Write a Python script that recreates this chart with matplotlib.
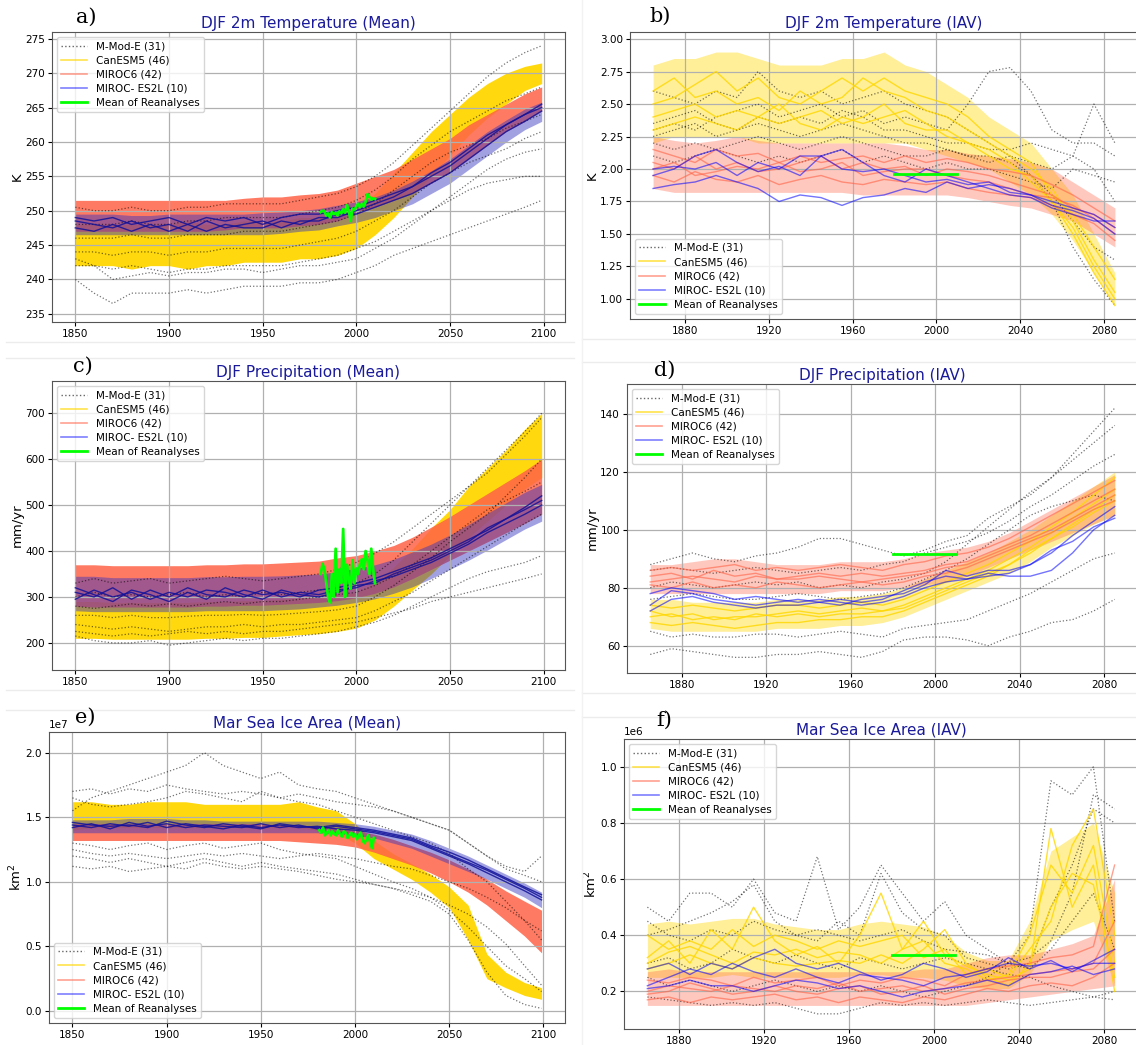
import numpy as np
import matplotlib.pyplot as plt
from matplotlib.lines import Line2D

# ---- x nodes (read every ~10 years off the figure) ----
YM = [1850, 1860, 1870, 1880, 1890, 1900, 1910, 1920, 1930, 1940, 1950, 1960, 1970,
      1980, 1990, 2000, 2010, 2020, 2030, 2040, 2050, 2060, 2070, 2080, 2090, 2099]
YI = [1865, 1875, 1885, 1895, 1905, 1915, 1925, 1935, 1945, 1955, 1965, 1975, 1985,
      1995, 2005, 2015, 2025, 2035, 2045, 2055, 2065, 2075, 2085]
YR = list(range(1981, 2011))

# ---- a) DJF 2m temperature, mean (K) ----
TA_CAN_LO = [242, 242, 242, 241.5, 242, 242, 241.5, 242, 242, 242.5, 242.5, 242.5, 243, 243, 243.5, 244.5, 246.5, 249, 252, 255, 258, 261, 263.5, 265.5, 267.5, 268.5]
TA_CAN_HI = [248, 248, 248, 248, 248, 248, 248.5, 248, 248, 248.5, 248.5, 248.5, 249, 249, 249.5, 250.5, 252.5, 255.5, 258.5, 261.5, 264, 266.5, 268.5, 270, 271, 271.5]
TA_M6_LO = [247, 247, 247, 247, 247, 247, 247, 247, 247.2, 247.5, 247.5, 247.5, 247.8, 248, 248.5, 249.5, 250.5, 251.5, 252.5, 254, 255.5, 257.5, 259.5, 261.5, 263, 264.5]
TA_M6_HI = [251.5, 251.5, 251.5, 251.5, 251.5, 251.5, 251.5, 251.5, 251.5, 251.8, 252, 252, 252.3, 252.5, 253, 254, 255, 256, 257.5, 259, 260.5, 262.5, 264, 265.5, 267, 268]
TA_ES_LO = [246.5, 246.5, 246.5, 246.5, 246.5, 246.5, 246.5, 246.5, 246.5, 246.5, 246.5, 246.7, 247, 247.2, 247.8, 248.3, 249, 250, 251, 252.5, 254, 256, 258, 260, 261.8, 263]
TA_ES_HI = [249.5, 249.5, 249.5, 249.3, 249.3, 249.5, 249.5, 249.5, 249.5, 249.5, 249.7, 249.8, 250, 250.3, 250.8, 251.3, 252, 253, 254.3, 255.8, 257.5, 259.5, 261.5, 263.2, 264.8, 265.8]
TA_ES = [
    [248.5, 248, 247.5, 248.5, 247.5, 248, 247, 248.5, 247.5, 248, 248.5, 247.5, 248.5, 248.5, 249.5, 249.5, 250.5, 251.5, 252.5, 254, 255.5, 257.5, 259.5, 261.5, 263, 264.5],
    [247.5, 247, 248, 247, 248, 247, 248, 247, 248, 247.5, 247.5, 248.5, 248, 249, 249, 250, 251, 252, 253.5, 255, 256.5, 258.5, 260.5, 262.5, 264, 265],
    [249, 248.5, 249, 248, 248.5, 249, 248, 249, 248.5, 249, 248, 249, 249.5, 249.5, 250, 250.5, 251.5, 252.5, 253.5, 255.5, 257, 259, 261, 262.5, 264, 265.5],
]
TA_MME = [
    [240, 238, 236.5, 238, 238, 238, 238.5, 238, 238.5, 239, 239, 239, 239.5, 239.5, 240, 241, 242, 243.5, 244.5, 245.5, 246.5, 247.5, 248.5, 249.5, 250.5, 251.5],
    [242, 242, 241.5, 242, 241.5, 241, 241.5, 241.5, 242, 242, 242, 242, 242.5, 243, 243.5, 244.5, 245.5, 247, 248.5, 250, 251.5, 253, 254, 254.5, 255, 255],
    [244, 244, 243.5, 244, 244, 243.5, 244, 244, 244.5, 244.5, 244.5, 244.5, 245, 245.5, 246, 247, 248.5, 250, 252, 254, 255.5, 257, 258, 259, 260.5, 261.5],
    [246, 246, 246, 246.5, 246, 246, 246.5, 246.5, 246.5, 247, 247, 247, 247.5, 248, 248.5, 249.5, 251, 253, 255, 257, 258.5, 259.5, 260.5, 262, 263, 264],
    [248, 248, 248, 248.5, 248, 248, 248.5, 248.5, 249, 249, 249, 249, 249.5, 250, 250.5, 251.5, 253, 255, 257.5, 259.5, 261.5, 263, 264.5, 266, 267, 268],
    [250.5, 250, 250, 250.5, 250, 250, 250.5, 250.5, 251, 251, 251, 251, 251.5, 252, 252.5, 253.5, 255, 257, 259.5, 262, 264.5, 267, 269.5, 271.5, 273, 274],
    [243, 242, 240, 240.5, 241, 240.5, 241, 241, 241.5, 241.5, 241, 241.5, 242, 242, 242.5, 243, 244.5, 246, 248, 250, 252, 254, 256, 257.5, 258.5, 259],
]
TA_REA = [249.8, 250.0, 249.9, 249.3, 249.6, 249.0, 249.8, 249.5, 249.7, 249.3, 249.9, 249.6, 250.2, 249.7, 250.8,
          250.0, 248.5, 250.3, 250.1, 250.6, 251.0, 250.5, 251.0, 250.6, 251.3, 252.4, 252.0, 251.6, 251.8, 251.7]

# ---- b) DJF 2m temperature, IAV (K) ----
TB_CAN_LO = [2.2, 2.25, 2.25, 2.25, 2.25, 2.2, 2.2, 2.2, 2.2, 2.2, 2.2, 2.2, 2.2, 2.15, 2.1, 2.05, 2.0, 1.9, 1.8, 1.65, 1.45, 1.2, 0.95]
TB_CAN_HI = [2.8, 2.85, 2.85, 2.9, 2.9, 2.85, 2.8, 2.8, 2.8, 2.85, 2.85, 2.9, 2.8, 2.75, 2.65, 2.55, 2.4, 2.3, 2.2, 2.0, 1.8, 1.5, 1.2]
TB_CAN = [
    [2.6, 2.7, 2.55, 2.6, 2.5, 2.55, 2.45, 2.6, 2.5, 2.55, 2.7, 2.6, 2.55, 2.45, 2.4, 2.3, 2.2, 2.1, 2.0, 1.85, 1.6, 1.3, 1.05],
    [2.4, 2.45, 2.5, 2.4, 2.45, 2.4, 2.35, 2.4, 2.45, 2.35, 2.4, 2.5, 2.35, 2.3, 2.3, 2.2, 2.15, 2.05, 1.9, 1.75, 1.55, 1.25, 1.0],
    [2.5, 2.55, 2.65, 2.75, 2.6, 2.7, 2.55, 2.5, 2.6, 2.7, 2.6, 2.7, 2.6, 2.55, 2.5, 2.4, 2.25, 2.15, 2.05, 1.8, 1.65, 1.4, 1.15],
    [2.3, 2.35, 2.4, 2.35, 2.3, 2.4, 2.5, 2.35, 2.3, 2.4, 2.35, 2.4, 2.45, 2.35, 2.25, 2.2, 2.1, 2.0, 1.95, 1.75, 1.5, 1.2, 0.95],
]
TB_M6_LO = [1.85, 1.82, 1.82, 1.82, 1.82, 1.82, 1.82, 1.82, 1.82, 1.82, 1.8, 1.8, 1.8, 1.8, 1.8, 1.78, 1.75, 1.72, 1.7, 1.65, 1.6, 1.5, 1.4]
TB_M6_HI = [2.25, 2.22, 2.2, 2.22, 2.25, 2.22, 2.2, 2.2, 2.2, 2.2, 2.2, 2.2, 2.18, 2.15, 2.15, 2.12, 2.1, 2.08, 2.05, 2.0, 1.9, 1.8, 1.7]
TB_M6 = [
    [2.05, 2.0, 2.1, 2.0, 2.05, 1.98, 2.0, 2.05, 2.1, 2.0, 2.05, 2.0, 2.02, 1.95, 2.0, 1.98, 1.95, 1.9, 1.85, 1.8, 1.7, 1.65, 1.55],
    [1.95, 1.9, 1.98, 1.92, 1.9, 1.95, 1.88, 1.92, 1.95, 1.9, 1.88, 1.92, 1.9, 1.88, 1.9, 1.85, 1.82, 1.8, 1.78, 1.72, 1.65, 1.58, 1.45],
    [2.15, 2.1, 2.05, 2.15, 2.1, 2.12, 2.05, 2.1, 2.05, 2.08, 2.1, 2.05, 2.1, 2.05, 2.08, 2.05, 2.0, 1.98, 1.95, 1.88, 1.8, 1.7, 1.6],
    [2.0, 2.05, 1.95, 1.98, 2.02, 2.0, 2.05, 1.98, 2.0, 2.05, 1.95, 1.98, 2.0, 2.0, 1.95, 1.92, 1.9, 1.85, 1.8, 1.78, 1.72, 1.62, 1.5],
]
TB_ES = [
    [2.0, 2.02, 2.0, 2.05, 1.95, 2.05, 2.0, 2.1, 2.1, 2.0, 1.98, 2.0, 1.95, 1.9, 1.92, 1.88, 1.9, 1.82, 1.8, 1.75, 1.7, 1.65, 1.55],
    [1.85, 1.88, 1.9, 1.95, 1.9, 1.85, 1.75, 1.8, 1.78, 1.72, 1.78, 1.8, 1.85, 1.82, 1.9, 1.85, 1.88, 1.85, 1.8, 1.72, 1.68, 1.62, 1.5],
    [1.95, 2.0, 2.1, 2.15, 2.05, 1.98, 2.02, 1.95, 2.1, 2.15, 2.05, 1.95, 1.9, 2.0, 1.95, 1.9, 1.85, 1.8, 1.78, 1.7, 1.65, 1.6, 1.6],
]
TB_MME = [
    [2.3, 2.35, 2.3, 2.4, 2.45, 2.5, 2.4, 2.45, 2.5, 2.4, 2.45, 2.35, 2.4, 2.35, 2.3, 2.5, 2.75, 2.78, 2.6, 2.3, 2.2, 2.2, 2.1],
    [2.25, 2.3, 2.35, 2.25, 2.3, 2.35, 2.3, 2.25, 2.3, 2.35, 2.3, 2.25, 2.2, 2.2, 2.15, 2.1, 2.1, 2.05, 1.95, 1.8, 1.6, 1.4, 1.3],
    [2.6, 2.55, 2.5, 2.6, 2.55, 2.75, 2.6, 2.55, 2.6, 2.5, 2.55, 2.6, 2.5, 2.45, 2.4, 2.3, 2.2, 2.1, 1.95, 1.75, 1.4, 1.15, 0.95],
    [2.2, 2.15, 2.2, 2.15, 2.2, 2.25, 2.2, 2.15, 2.2, 2.25, 2.2, 2.15, 2.1, 2.1, 2.15, 2.1, 2.05, 2.1, 2.05, 2.0, 2.1, 2.5, 2.2],
    [2.35, 2.4, 2.45, 2.35, 2.3, 2.4, 2.35, 2.4, 2.35, 2.45, 2.4, 2.3, 2.3, 2.25, 2.2, 2.2, 2.15, 2.15, 2.2, 2.15, 2.1, 2.0, 1.75],
    [2.1, 2.05, 2.1, 2.15, 2.1, 2.05, 2.1, 2.05, 2.1, 2.15, 2.05, 2.1, 2.05, 2.0, 2.05, 2.0, 2.0, 1.95, 1.9, 1.85, 2.0, 1.95, 1.9],
]
TB_REA = 1.96

# ---- c) DJF precipitation, mean (mm/yr) ----
PC_CAN_LO = [210, 210, 208, 208, 208, 208, 208, 210, 210, 212, 212, 215, 218, 220, 225, 232, 250, 280, 315, 350, 390, 430, 465, 500, 535, 560]
PC_CAN_HI = [290, 290, 288, 288, 288, 288, 288, 290, 290, 292, 292, 295, 298, 300, 305, 310, 330, 365, 405, 450, 490, 540, 580, 620, 665, 700]
PC_M6_LO = [280, 278, 278, 278, 278, 278, 278, 280, 280, 282, 282, 284, 286, 288, 292, 298, 308, 322, 340, 360, 380, 400, 420, 440, 460, 480]
PC_M6_HI = [370, 370, 368, 368, 368, 368, 368, 370, 370, 372, 372, 374, 376, 378, 385, 390, 400, 412, 430, 452, 475, 500, 525, 550, 575, 600]
PC_ES_LO = [270, 268, 268, 268, 268, 268, 268, 270, 270, 270, 270, 272, 274, 278, 282, 288, 296, 308, 322, 340, 360, 380, 402, 425, 448, 465]
PC_ES_HI = [345, 345, 342, 342, 342, 342, 342, 344, 344, 345, 345, 346, 348, 350, 355, 362, 370, 382, 398, 415, 435, 458, 482, 505, 528, 545]
PC_ES = [
    [310, 300, 320, 295, 315, 300, 320, 305, 300, 315, 305, 310, 300, 315, 320, 330, 340, 355, 370, 385, 405, 425, 445, 470, 490, 510],
    [295, 315, 300, 310, 295, 310, 300, 315, 310, 300, 315, 300, 310, 305, 315, 320, 335, 345, 360, 375, 395, 415, 440, 460, 480, 500],
    [320, 305, 290, 315, 305, 290, 310, 295, 320, 305, 295, 315, 305, 300, 310, 325, 330, 350, 365, 380, 400, 420, 450, 470, 495, 520],
]
PC_MME = [
    [215, 205, 200, 200, 205, 195, 200, 205, 210, 205, 210, 210, 215, 220, 225, 235, 245, 260, 280, 300, 320, 340, 355, 365, 375, 390],
    [240, 235, 230, 235, 230, 225, 230, 235, 235, 240, 235, 240, 240, 245, 250, 255, 270, 290, 310, 335, 360, 385, 410, 435, 460, 480],
    [260, 260, 255, 260, 255, 255, 258, 260, 260, 262, 260, 262, 265, 268, 272, 280, 300, 325, 355, 385, 420, 450, 480, 520, 560, 600],
    [300, 310, 300, 305, 300, 305, 310, 300, 305, 300, 310, 305, 310, 315, 320, 330, 350, 380, 420, 460, 500, 540, 580, 620, 660, 700],
    [330, 340, 330, 335, 340, 330, 335, 340, 345, 340, 335, 340, 345, 350, 360, 375, 395, 420, 450, 480, 510, 540, 570, 610, 650, 690],
    [225, 220, 215, 220, 215, 220, 225, 220, 225, 220, 225, 225, 230, 235, 240, 245, 255, 265, 275, 290, 300, 310, 320, 330, 340, 350],
    [280, 275, 280, 285, 280, 285, 280, 285, 290, 285, 290, 290, 295, 300, 305, 310, 325, 345, 370, 400, 430, 460, 490, 510, 530, 550],
]
PC_REA = [350, 372, 360, 330, 300, 288, 350, 300, 405, 310, 360, 330, 448, 300, 370, 340, 318, 380, 330, 362,
          350, 372, 382, 360, 400, 380, 350, 405, 360, 330]

# ---- d) DJF precipitation, IAV (mm/yr) ----
PD_CAN_LO = [66, 65, 65, 65, 65, 65, 66, 66, 66, 67, 67, 68, 70, 73, 76, 79, 82, 85, 89, 94, 98, 102, 105]
PD_CAN_HI = [76, 76, 75, 75, 75, 75, 76, 76, 76, 77, 77, 78, 80, 83, 86, 89, 92, 96, 100, 105, 110, 115, 120]
PD_CAN = [
    [72, 70, 71, 69, 70, 70, 71, 72, 71, 72, 73, 72, 74, 77, 80, 83, 86, 90, 94, 99, 104, 109, 114],
    [68, 67, 68, 67, 66, 67, 68, 68, 69, 69, 70, 70, 72, 75, 78, 81, 84, 88, 92, 97, 101, 106, 110],
    [74, 73, 74, 73, 72, 73, 74, 74, 73, 74, 75, 74, 76, 79, 82, 85, 88, 92, 96, 101, 106, 112, 118],
    [70, 71, 69, 70, 69, 71, 70, 71, 70, 71, 71, 72, 73, 76, 79, 82, 85, 88, 93, 97, 102, 107, 112],
]
PD_M6_LO = [78, 78, 78, 78, 78, 78, 78, 78, 78, 79, 79, 79, 80, 81, 82, 84, 87, 90, 93, 96, 99, 102, 105]
PD_M6_HI = [88, 88, 89, 90, 90, 89, 88, 88, 88, 89, 89, 89, 90, 92, 93, 94, 96, 99, 103, 107, 111, 115, 119]
PD_M6 = [
    [84, 85, 83, 86, 84, 85, 83, 84, 85, 84, 85, 84, 85, 86, 88, 89, 92, 95, 98, 102, 106, 110, 114],
    [81, 80, 82, 80, 81, 80, 82, 81, 80, 81, 82, 81, 82, 84, 85, 87, 90, 93, 96, 99, 103, 107, 110],
    [86, 87, 86, 87, 88, 86, 87, 86, 87, 88, 87, 86, 88, 89, 91, 92, 94, 97, 101, 105, 109, 113, 117],
    [82, 83, 84, 83, 82, 84, 83, 83, 84, 83, 82, 83, 84, 85, 87, 88, 91, 94, 97, 100, 104, 108, 112],
]
PD_ES = [
    [74, 79, 78, 76, 75, 74, 75, 76, 75, 74, 76, 77, 78, 81, 86, 84, 86, 86, 88, 92, 98, 103, 108],
    [78, 80, 79, 78, 76, 77, 76, 75, 76, 75, 74, 75, 77, 80, 82, 83, 85, 84, 84, 86, 92, 100, 105],
    [72, 76, 77, 75, 74, 73, 74, 74, 75, 76, 75, 76, 79, 82, 84, 83, 84, 85, 88, 93, 96, 101, 104],
]
PD_MME = [
    [57, 59, 58, 57, 56, 56, 57, 57, 58, 57, 56, 58, 62, 63, 63, 62, 60, 63, 65, 68, 69, 72, 76],
    [65, 63, 64, 63, 63, 64, 64, 63, 64, 65, 64, 63, 66, 67, 68, 69, 72, 75, 78, 82, 86, 90, 92],
    [88, 90, 92, 90, 89, 91, 92, 94, 97, 97, 95, 93, 91, 93, 96, 98, 104, 108, 112, 118, 126, 134, 142],
    [80, 82, 81, 80, 81, 82, 81, 82, 80, 81, 80, 82, 83, 85, 89, 95, 101, 107, 113, 118, 124, 130, 136],
    [76, 77, 78, 77, 76, 76, 77, 78, 77, 76, 77, 78, 80, 83, 86, 90, 95, 100, 105, 108, 110, 112, 110],
    [86, 87, 86, 85, 86, 87, 86, 85, 86, 87, 86, 88, 89, 92, 94, 96, 99, 103, 108, 112, 117, 122, 126],
]
PD_REA = 91.5

# ---- e) March sea ice area, mean (units of 1e7 km2) ----
SE_CAN_LO = [1.40, 1.42, 1.42, 1.42, 1.42, 1.42, 1.42, 1.42, 1.42, 1.42, 1.42, 1.42, 1.42, 1.40, 1.38, 1.30, 1.18, 1.10, 1.02, 0.92, 0.80, 0.55, 0.25, 0.18, 0.12, 0.09]
SE_CAN_HI = [1.62, 1.62, 1.60, 1.60, 1.62, 1.62, 1.62, 1.60, 1.60, 1.60, 1.60, 1.60, 1.62, 1.58, 1.55, 1.45, 1.32, 1.22, 1.14, 1.06, 0.96, 0.82, 0.44, 0.30, 0.22, 0.18]
SE_M6_LO = [1.32, 1.32, 1.32, 1.32, 1.32, 1.32, 1.32, 1.32, 1.32, 1.32, 1.32, 1.32, 1.31, 1.30, 1.29, 1.27, 1.23, 1.18, 1.13, 1.07, 1.00, 0.92, 0.82, 0.70, 0.58, 0.45]
SE_M6_HI = [1.45, 1.45, 1.45, 1.45, 1.45, 1.45, 1.45, 1.45, 1.45, 1.45, 1.45, 1.44, 1.44, 1.43, 1.42, 1.40, 1.37, 1.33, 1.28, 1.23, 1.17, 1.10, 1.02, 0.93, 0.85, 0.78]
SE_ES_LO = [1.38, 1.38, 1.38, 1.38, 1.38, 1.38, 1.38, 1.38, 1.38, 1.38, 1.38, 1.38, 1.38, 1.38, 1.37, 1.36, 1.34, 1.30, 1.26, 1.20, 1.14, 1.08, 1.02, 0.95, 0.88, 0.80]
SE_ES_HI = [1.48, 1.48, 1.48, 1.49, 1.49, 1.49, 1.48, 1.48, 1.47, 1.47, 1.47, 1.47, 1.47, 1.47, 1.46, 1.45, 1.43, 1.40, 1.37, 1.32, 1.26, 1.20, 1.13, 1.06, 0.99, 0.92]
SE_ES = [
    [1.44, 1.42, 1.45, 1.43, 1.46, 1.42, 1.45, 1.43, 1.41, 1.44, 1.42, 1.44, 1.42, 1.43, 1.41, 1.40, 1.38, 1.35, 1.32, 1.26, 1.20, 1.14, 1.07, 1.00, 0.93, 0.86],
    [1.42, 1.45, 1.41, 1.46, 1.43, 1.45, 1.42, 1.44, 1.43, 1.42, 1.45, 1.42, 1.44, 1.41, 1.43, 1.41, 1.39, 1.36, 1.33, 1.27, 1.21, 1.15, 1.09, 1.02, 0.95, 0.88],
    [1.46, 1.44, 1.43, 1.44, 1.42, 1.47, 1.44, 1.42, 1.45, 1.43, 1.41, 1.45, 1.43, 1.42, 1.44, 1.42, 1.40, 1.37, 1.34, 1.28, 1.23, 1.17, 1.10, 1.03, 0.96, 0.90],
]
SE_MME = [
    [1.55, 1.65, 1.70, 1.75, 1.80, 1.85, 1.90, 2.00, 1.90, 1.85, 1.80, 1.85, 1.75, 1.72, 1.70, 1.65, 1.60, 1.55, 1.50, 1.45, 1.40, 1.30, 1.20, 1.10, 1.05, 1.00],
    [1.70, 1.72, 1.68, 1.72, 1.70, 1.75, 1.72, 1.70, 1.68, 1.70, 1.68, 1.65, 1.68, 1.65, 1.62, 1.60, 1.58, 1.55, 1.50, 1.45, 1.40, 1.30, 1.20, 1.12, 1.08, 1.20],
    [1.20, 1.18, 1.15, 1.18, 1.15, 1.12, 1.15, 1.18, 1.15, 1.12, 1.15, 1.12, 1.10, 1.08, 1.06, 1.02, 0.98, 0.95, 0.90, 0.85, 0.75, 0.55, 0.30, 0.12, 0.05, 0.02],
    [1.30, 1.28, 1.25, 1.28, 1.30, 1.25, 1.28, 1.30, 1.26, 1.28, 1.30, 1.25, 1.22, 1.20, 1.18, 1.12, 1.06, 1.00, 0.95, 0.88, 0.78, 0.65, 0.50, 0.35, 0.25, 0.15],
    [1.12, 1.10, 1.12, 1.08, 1.10, 1.12, 1.10, 1.15, 1.12, 1.10, 1.12, 1.10, 1.08, 1.05, 1.02, 1.00, 0.98, 0.95, 0.92, 0.88, 0.82, 0.75, 0.65, 0.52, 0.35, 0.20],
    [1.25, 1.22, 1.20, 1.22, 1.20, 1.18, 1.20, 1.22, 1.20, 1.22, 1.20, 1.18, 1.20, 1.22, 1.20, 1.18, 1.15, 1.12, 1.10, 1.05, 1.00, 0.95, 0.88, 0.80, 0.70, 0.62],
    [1.65, 1.60, 1.58, 1.60, 1.62, 1.65, 1.70, 1.68, 1.65, 1.62, 1.70, 1.65, 1.62, 1.60, 1.55, 1.50, 1.45, 1.40, 1.35, 1.30, 1.22, 1.10, 1.00, 0.85, 0.70, 0.55],
]
SE_REA = [1.40, 1.38, 1.42, 1.36, 1.38, 1.40, 1.36, 1.39, 1.37, 1.36, 1.40, 1.37, 1.35, 1.39, 1.38,
          1.34, 1.36, 1.38, 1.35, 1.37, 1.33, 1.36, 1.38, 1.32, 1.30, 1.33, 1.36, 1.31, 1.26, 1.34]

# ---- f) March sea ice area, IAV (units of 1e6 km2) ----
SF_CAN_LO = [0.25, 0.25, 0.25, 0.25, 0.26, 0.25, 0.25, 0.25, 0.25, 0.25, 0.26, 0.26, 0.25, 0.25, 0.24, 0.22, 0.21, 0.21, 0.26, 0.38, 0.42, 0.45, 0.22]
SF_CAN_HI = [0.44, 0.45, 0.44, 0.45, 0.46, 0.46, 0.44, 0.43, 0.42, 0.42, 0.44, 0.45, 0.44, 0.43, 0.40, 0.34, 0.31, 0.31, 0.45, 0.70, 0.75, 0.80, 0.55]
SF_CAN = [
    [0.32, 0.38, 0.30, 0.42, 0.35, 0.50, 0.38, 0.33, 0.36, 0.30, 0.40, 0.55, 0.35, 0.38, 0.30, 0.28, 0.24, 0.26, 0.40, 0.65, 0.55, 0.72, 0.30],
    [0.28, 0.30, 0.33, 0.30, 0.28, 0.32, 0.30, 0.29, 0.30, 0.31, 0.30, 0.33, 0.30, 0.35, 0.42, 0.30, 0.25, 0.22, 0.30, 0.50, 0.62, 0.58, 0.25],
    [0.40, 0.35, 0.38, 0.35, 0.42, 0.36, 0.40, 0.38, 0.35, 0.38, 0.36, 0.38, 0.40, 0.32, 0.35, 0.26, 0.28, 0.25, 0.35, 0.45, 0.72, 0.85, 0.40],
    [0.30, 0.34, 0.36, 0.33, 0.30, 0.34, 0.33, 0.35, 0.32, 0.34, 0.33, 0.30, 0.35, 0.45, 0.33, 0.29, 0.26, 0.24, 0.28, 0.78, 0.50, 0.65, 0.20],
]
SF_M6_LO = [0.15, 0.15, 0.15, 0.15, 0.15, 0.15, 0.15, 0.15, 0.15, 0.15, 0.15, 0.15, 0.15, 0.15, 0.15, 0.15, 0.16, 0.17, 0.18, 0.19, 0.20, 0.21, 0.22]
SF_M6_HI = [0.27, 0.28, 0.27, 0.27, 0.27, 0.27, 0.27, 0.27, 0.27, 0.27, 0.27, 0.27, 0.27, 0.28, 0.28, 0.30, 0.32, 0.33, 0.33, 0.35, 0.37, 0.40, 0.60]
SF_M6 = [
    [0.20, 0.22, 0.21, 0.20, 0.22, 0.21, 0.20, 0.22, 0.21, 0.23, 0.20, 0.21, 0.22, 0.20, 0.21, 0.23, 0.24, 0.25, 0.26, 0.27, 0.28, 0.30, 0.45],
    [0.17, 0.18, 0.16, 0.18, 0.17, 0.18, 0.19, 0.17, 0.18, 0.16, 0.18, 0.17, 0.16, 0.18, 0.17, 0.19, 0.21, 0.20, 0.22, 0.23, 0.22, 0.25, 0.30],
    [0.24, 0.23, 0.25, 0.24, 0.22, 0.25, 0.23, 0.24, 0.25, 0.22, 0.24, 0.23, 0.25, 0.24, 0.22, 0.26, 0.28, 0.29, 0.30, 0.32, 0.33, 0.36, 0.65],
    [0.19, 0.20, 0.23, 0.21, 0.19, 0.20, 0.22, 0.20, 0.19, 0.21, 0.22, 0.19, 0.20, 0.22, 0.19, 0.21, 0.22, 0.24, 0.25, 0.25, 0.27, 0.28, 0.35],
]
SF_ES = [
    [0.22, 0.25, 0.28, 0.26, 0.30, 0.27, 0.25, 0.28, 0.25, 0.23, 0.26, 0.25, 0.24, 0.22, 0.25, 0.26, 0.28, 0.30, 0.29, 0.30, 0.28, 0.30, 0.30],
    [0.28, 0.30, 0.26, 0.30, 0.28, 0.32, 0.35, 0.30, 0.28, 0.30, 0.27, 0.24, 0.26, 0.30, 0.28, 0.25, 0.27, 0.32, 0.28, 0.31, 0.27, 0.31, 0.35],
    [0.21, 0.22, 0.24, 0.22, 0.22, 0.20, 0.22, 0.24, 0.23, 0.21, 0.22, 0.20, 0.18, 0.20, 0.21, 0.22, 0.24, 0.22, 0.26, 0.27, 0.29, 0.26, 0.28],
]
SF_MME = [
    [0.50, 0.45, 0.55, 0.55, 0.50, 0.60, 0.48, 0.45, 0.68, 0.42, 0.50, 0.65, 0.55, 0.45, 0.52, 0.40, 0.35, 0.30, 0.40, 0.95, 0.90, 1.00, 0.45],
    [0.45, 0.40, 0.38, 0.42, 0.40, 0.45, 0.42, 0.40, 0.38, 0.45, 0.40, 0.62, 0.48, 0.42, 0.40, 0.32, 0.30, 0.28, 0.30, 0.50, 0.65, 0.85, 0.80],
    [0.18, 0.17, 0.16, 0.15, 0.16, 0.15, 0.16, 0.14, 0.12, 0.12, 0.14, 0.16, 0.15, 0.16, 0.15, 0.16, 0.17, 0.16, 0.15, 0.16, 0.17, 0.18, 0.20],
    [0.30, 0.32, 0.28, 0.30, 0.35, 0.32, 0.30, 0.33, 0.30, 0.28, 0.32, 0.30, 0.28, 0.30, 0.32, 0.30, 0.28, 0.26, 0.25, 0.22, 0.20, 0.18, 0.17],
    [0.25, 0.22, 0.24, 0.22, 0.20, 0.22, 0.24, 0.22, 0.20, 0.22, 0.20, 0.22, 0.20, 0.18, 0.20, 0.22, 0.25, 0.30, 0.28, 0.35, 0.45, 0.55, 0.35],
    [0.40, 0.42, 0.45, 0.48, 0.52, 0.58, 0.45, 0.40, 0.42, 0.40, 0.38, 0.40, 0.42, 0.38, 0.35, 0.34, 0.33, 0.30, 0.32, 0.38, 0.55, 0.90, 0.85],
]
SF_REA = 0.33

LABELS = ['M-Mod-E (31)', 'CanESM5 (46)', 'MIROC6 (42)', 'MIROC- ES2L (10)', 'Mean of Reanalyses']

W, H = 1136, 1045
fig = plt.figure(figsize=(W / 100, H / 100), dpi=100)


def box(l, t, r, b):
    return [l / W, 1 - b / H, (r - l) / W, (b - t) / H]


def fy(py):
    return 1 - py / H


# faint frame lines of the pasted sub-figures
for yy in [342, 358, 690, 710]:
    fig.add_artist(Line2D([0.005, 0.505], [fy(yy), fy(yy)], color='#ececec', lw=1))
for yy in [339, 362, 693, 717]:
    fig.add_artist(Line2D([582 / W, 1.0], [fy(yy), fy(yy)], color='#ececec', lw=1))
fig.add_artist(Line2D([582 / W, 582 / W], [0.0, 1.0], color='#f2f2f2', lw=1))

panels = [
    dict(lab='a)', lxy=(86, 17), title='DJF 2m Temperature (Mean)', yl='K', pos=(52, 32, 565, 322), kind='mean', sc=1,
         can=(TA_CAN_LO, TA_CAN_HI), m6=(TA_M6_LO, TA_M6_HI), es=(TA_ES_LO, TA_ES_HI), es_m=TA_ES,
         mme=TA_MME, rea=TA_REA, ylim=(233.8, 276.0), loc='upper left'),
    dict(lab='b)', lxy=(660, 16), title='DJF 2m Temperature (IAV)', yl='K', pos=(630, 32, 1138, 319), kind='iav', sc=1,
         can=(TB_CAN_LO, TB_CAN_HI), can_m=TB_CAN, m6=(TB_M6_LO, TB_M6_HI), m6_m=TB_M6, es_m=TB_ES,
         mme=TB_MME, rea=TB_REA, ylim=(0.846, 3.054), loc='lower left'),
    dict(lab='c)', lxy=(83, 366), title='DJF Precipitation (Mean)', yl='mm/yr', pos=(52, 381, 565, 670), kind='mean', sc=1,
         can=(PC_CAN_LO, PC_CAN_HI), m6=(PC_M6_LO, PC_M6_HI), es=(PC_ES_LO, PC_ES_HI), es_m=PC_ES,
         mme=PC_MME, rea=PC_REA, ylim=(141, 770), loc='upper left'),
    dict(lab='d)', lxy=(665, 370), title='DJF Precipitation (IAV)', yl='mm/yr', pos=(627, 384, 1138, 673), kind='iav', sc=1,
         can=(PD_CAN_LO, PD_CAN_HI), can_m=PD_CAN, m6=(PD_M6_LO, PD_M6_HI), m6_m=PD_M6, es_m=PD_ES,
         mme=PD_MME, rea=PD_REA, ylim=(50.6, 150.3), loc='upper left'),
    dict(lab='e)', lxy=(85, 717), title='Mar Sea Ice Area (Mean)', yl='km$^2$', pos=(49, 732, 565, 1023), kind='mean', sc=1e7,
         can=(SE_CAN_LO, SE_CAN_HI), m6=(SE_M6_LO, SE_M6_HI), es=(SE_ES_LO, SE_ES_HI), es_m=SE_ES,
         mme=SE_MME, rea=SE_REA, ylim=(-0.093e7, 2.16e7), loc='lower left'),
    dict(lab='f)', lxy=(664, 720), title='Mar Sea Ice Area (IAV)', yl='km$^2$', pos=(624, 739, 1138, 1029), kind='iav', sc=1e6,
         can=(SF_CAN_LO, SF_CAN_HI), can_m=SF_CAN, m6=(SF_M6_LO, SF_M6_HI), m6_m=SF_M6, es_m=SF_ES,
         mme=SF_MME, rea=SF_REA, ylim=(0.066e6, 1.099e6), loc='upper left'),
]

for p in panels:
    ax = fig.add_axes(box(*p['pos']))
    sc = p['sc']
    if p['kind'] == 'mean':
        x = YM
        for m in p['mme']:
            ax.plot(x, np.array(m) * sc, ':', color='black', lw=0.9, alpha=0.55)
        ax.fill_between(x, np.array(p['can'][0]) * sc, np.array(p['can'][1]) * sc,
                        color='gold', alpha=0.95, lw=0)
        ax.fill_between(x, np.array(p['m6'][0]) * sc, np.array(p['m6'][1]) * sc,
                        color='tomato', alpha=0.85, lw=0)
        ax.fill_between(x, np.array(p['es'][0]) * sc, np.array(p['es'][1]) * sc,
                        color='#3030c0', alpha=0.45, lw=0)
        for m in p['es_m']:
            ax.plot(x, np.array(m) * sc, color='#12129a', lw=1.0, alpha=0.85)
        ax.plot(YR, np.array(p['rea']) * sc, color='lime', lw=2)
        ax.set_xticks([1850, 1900, 1950, 2000, 2050, 2100])
        ax.set_xlim(1837.55, 2111.45)
    else:
        x = YI
        for m in p['mme']:
            ax.plot(x, np.array(m) * sc, ':', color='black', lw=0.9, alpha=0.55)
        ax.fill_between(x, np.array(p['can'][0]) * sc, np.array(p['can'][1]) * sc,
                        color='gold', alpha=0.4, lw=0)
        for m in p['can_m']:
            ax.plot(x, np.array(m) * sc, color='gold', lw=1.0, alpha=0.8)
        ax.fill_between(x, np.array(p['m6'][0]) * sc, np.array(p['m6'][1]) * sc,
                        color='tomato', alpha=0.35, lw=0)
        for m in p['m6_m']:
            ax.plot(x, np.array(m) * sc, color='tomato', lw=1.0, alpha=0.6)
        for m in p['es_m']:
            ax.plot(x, np.array(m) * sc, color='blue', lw=1.0, alpha=0.55)
        ax.plot([1980, 2010], [p['rea'] * sc, p['rea'] * sc], color='lime', lw=2)
        ax.set_xticks([1880, 1920, 1960, 2000, 2040, 2080])
        ax.set_xlim(1854, 2096)
    ax.set_ylim(*p['ylim'])
    ax.grid(True, color='#b0b0b0', lw=0.9)
    ax.tick_params(labelsize=7.5, length=3, pad=2)
    ax.yaxis.get_offset_text().set_fontsize(7.5)
    l, t, r, b = p['pos']
    lab_px = 24 if l < 300 else 599
    ax.set_ylabel(p['yl'], fontsize=9.5)
    ax.yaxis.set_label_coords((lab_px - l) / (r - l), 0.5)
    ax.set_title(p['title'], color='#1a1a9a', fontsize=11, pad=3)
    for s in ax.spines.values():
        s.set_color('#555555')
    handles = [
        Line2D([], [], ls=':', color='black', lw=1, alpha=0.6),
        Line2D([], [], color='gold', lw=1.2, alpha=0.7),
        Line2D([], [], color='tomato', lw=1.2, alpha=0.6),
        Line2D([], [], color='blue', lw=1.2, alpha=0.5),
        Line2D([], [], color='lime', lw=2),
    ]
    ax.legend(handles, LABELS, loc=p['loc'], fontsize=7.5, framealpha=0.8, borderpad=0.4,
              labelspacing=0.4, handlelength=2.5)
    fig.text(p['lxy'][0] / W, fy(p['lxy'][1]), p['lab'], fontsize=15, family='DejaVu Serif',
             ha='center', va='center')

fig.savefig('out.png', dpi=100)
